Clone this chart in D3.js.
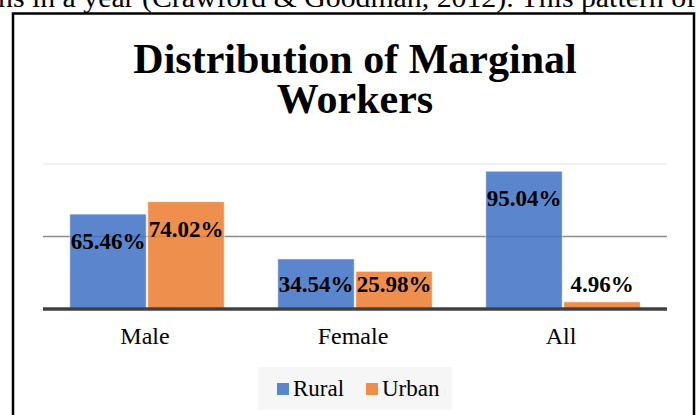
<!DOCTYPE html>
<html>
<head>
<meta charset="utf-8">
<script src="https://d3js.org/d3.v7.min.js"></script>
<style>
  body { margin: 0; background: #fff; }
  text { font-family: "Times New Roman", "Liberation Serif", serif; }
</style>
</head>
<body>
<div id="vis"></div>
<script>
  // data
  const categories = ['Male', 'Female', 'All']
  const seriesNames = ['Rural', 'Urban']
  const rural = [65.46, 34.54, 95.04]
  const urban = [74.02, 25.98, 4.96]
  const gridTicks = [50, 100]
  const colors = ['#3e71c4', '#ec7b2f']

  const width = 700, height = 415

  var svg = d3.select('#vis')
    .append('svg')
    .attr('width', width)
    .attr('height', height)

  // page text cut off above the figure
  svg.append('text')
    .attr('x', -2)
    .attr('y', 7)
    .attr('textLength', 698)
    .attr('lengthAdjust', 'spacingAndGlyphs')
    .style('font-size', '27px')
    .text('ns in a year (Crawford & Goodman, 2012). This pattern of')

  // figure frame
  svg.append('rect')
    .attr('x', 13)
    .attr('y', 13.5)
    .attr('width', 681)
    .attr('height', 420)
    .attr('fill', 'none')
    .attr('stroke', '#000')
    .attr('stroke-width', 2.5)

  // title
  var title = svg.append('text')
    .attr('text-anchor', 'middle')
    .style('font-size', '42px')
    .style('font-weight', 'bold')
  title.append('tspan').attr('x', 355).attr('y', 73).text('Distribution of Marginal')
  title.append('tspan').attr('x', 355).attr('y', 113).text('Workers')

  var x0 = d3.scaleBand()
    .domain(categories)
    .range([43, 667])
    .paddingInner(0.25)
    .paddingOuter(0.125)

  var x1 = d3.scaleBand()
    .domain(seriesNames)
    .range([0, x0.bandwidth()])

  var y = d3.scaleLinear()
    .domain([0, 100])
    .range([309, 164])

  // gridlines
  svg.selectAll('.grid')
    .data(gridTicks)
    .enter()
    .append('line')
    .attr('x1', 43)
    .attr('x2', 667)
    .attr('y1', d => y(d))
    .attr('y2', d => y(d))
    .attr('stroke', d => d === 100 ? '#e2e2e2' : '#8c8c8c')
    .attr('stroke-width', d => d === 100 ? 1 : 1.5)

  var rows = categories.map((c, i) => ({ cat: c, values: [rural[i], urban[i]] }))

  var groups = svg.selectAll('.group')
    .data(rows)
    .enter()
    .append('g')
    .attr('transform', d => 'translate(' + x0(d.cat) + ',0)')

  groups.selectAll('rect')
    .data(d => d.values.map((v, j) => ({ key: seriesNames[j], value: v, j: j })))
    .enter()
    .append('rect')
    .attr('x', d => x1(d.key) + 0.75)
    .attr('width', x1.bandwidth() - 1.5)
    .attr('y', d => y(d.value))
    .attr('height', d => y(0) - y(d.value))
    .attr('fill', d => colors[d.j])
    .attr('fill-opacity', 0.85)
    .attr('stroke', '#ffffff')
    .attr('stroke-opacity', 0.6)
    .attr('stroke-width', 1)

  groups.selectAll('.lbl')
    .data(d => d.values.map((v, j) => ({ key: seriesNames[j], value: v })))
    .enter()
    .append('text')
    .attr('x', d => x1(d.key) + x1.bandwidth() / 2)
    .attr('y', d => Math.min(y(d.value) + 35, y(0) - 17))
    .attr('text-anchor', 'middle')
    .style('font-size', '23px')
    .style('font-weight', 'bold')
    .text(d => d.value.toFixed(2) + '%')

  // baseline
  svg.append('line')
    .attr('x1', 43)
    .attr('x2', 667)
    .attr('y1', y(0))
    .attr('y2', y(0))
    .attr('stroke', '#404040')
    .attr('stroke-width', 3.5)

  // category labels
  svg.selectAll('.cat')
    .data(categories)
    .enter()
    .append('text')
    .attr('x', d => x0(d) + x0.bandwidth() / 2 - 2)
    .attr('y', 344)
    .attr('text-anchor', 'middle')
    .style('font-size', '24px')
    .text(d => d)

  // legend
  svg.append('rect')
    .attr('x', 258)
    .attr('y', 367)
    .attr('width', 194)
    .attr('height', 43)
    .attr('fill', '#f6f6f6')

  var legendX = [277, 366]
  var leg = svg.selectAll('.leg')
    .data(seriesNames)
    .enter()
    .append('g')
    .attr('transform', (d, i) => 'translate(' + legendX[i] + ',383)')
  leg.append('rect')
    .attr('width', 12)
    .attr('height', 12)
    .attr('fill', (d, i) => colors[i])
    .attr('fill-opacity', 0.85)
  leg.append('text')
    .attr('x', 16)
    .attr('y', 13)
    .style('font-size', '23px')
    .text(d => d)
</script>
</body>
</html>
